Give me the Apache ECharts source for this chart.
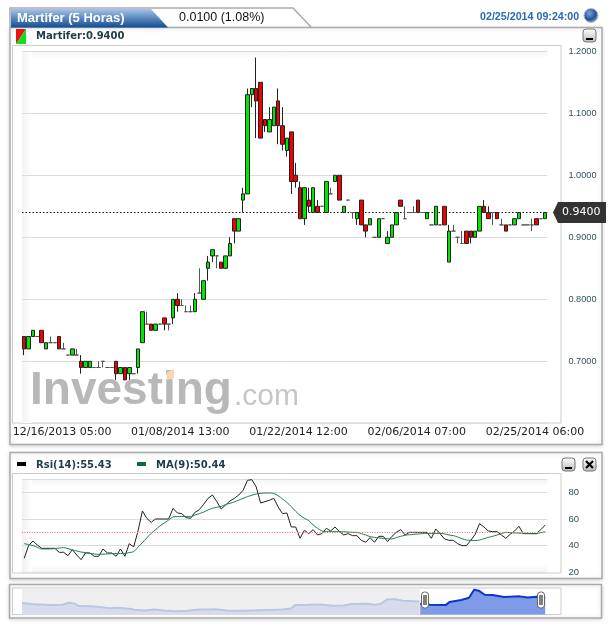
<!DOCTYPE html>
<html><head><meta charset="utf-8">
<script src="https://cdn.jsdelivr.net/npm/echarts@6/dist/echarts.min.js"></script>
<style>html,body{margin:0;padding:0;background:#fff}#c{width:613px;height:627px}</style>
</head><body><div id="c"></div>
<script>
const tickLabels={9:'12/16/2013 05:00',36:'01/08/2014 13:00',63:'01/22/2014 12:00',90:'02/06/2014 07:00',117:'02/25/2014 06:00'};
const opens=[.74,.72,.74,.74,.75,.72,.73,.73,.74,.72,.71,.71,.71,.70,.69,.69,.69,.69,.70,.69,.69,.70,.68,.69,.68,.68,.69,.73,.76,.76,.75,.76,.77,.76,.77,.80,.79,.78,.78,.78,.81,.80,.85,.87,.87,.86,.85,.87,.93,.91,.96,.97,1.13,1.14,1.15,1.09,1.07,1.08,1.12,1.08,1.04,1.07,1.00,.98,.93,.96,.94,.95,.95,.94,.97,.99,1.00,.94,.96,.94,.93,.96,.92,.92,.90,.90,.93,.89,.90,.92,.96,.93,.94,.94,.96,.94,.93,.92,.92,.92,.95,.86,.91,.90,.89,.91,.91,.90,.91,.95,.94,.94,.94,.92,.92,.92,.92,.93,.92,.92,.92,.93,.93,.93];
const closes=[.72,.74,.75,.74,.73,.73,.73,.73,.72,.72,.71,.72,.71,.69,.70,.70,.69,.69,.70,.69,.69,.68,.69,.67,.69,.68,.72,.78,.76,.75,.76,.76,.76,.76,.80,.79,.79,.78,.78,.80,.81,.83,.86,.88,.87,.85,.87,.89,.91,.93,.97,1.13,1.14,1.12,1.06,1.08,1.09,1.11,1.08,1.05,1.06,.99,.99,.93,.98,.95,.98,.94,.95,.99,.97,1.00,.96,.95,.96,.94,.94,.92,.91,.93,.90,.93,.93,.90,.92,.94,.95,.93,.94,.94,.94,.94,.94,.92,.95,.92,.92,.91,.91,.90,.89,.89,.90,.91,.95,.94,.93,.94,.93,.92,.91,.92,.93,.94,.92,.92,.92,.92,.93,.94];
const lows=[.71,.72,.74,.74,.73,.72,.73,.73,.72,.72,.71,.71,.71,.68,.69,.69,.69,.69,.69,.69,.69,.67,.68,.67,.67,.68,.68,.73,.76,.75,.75,.76,.75,.75,.76,.78,.79,.78,.78,.78,.81,.80,.83,.86,.85,.85,.85,.87,.89,.91,.94,.97,1.11,1.06,1.06,1.07,1.07,1.08,1.05,1.04,1.03,.97,.98,.93,.92,.94,.94,.94,.95,.94,.97,.99,.96,.94,.96,.93,.92,.92,.90,.92,.90,.90,.93,.89,.90,.92,.95,.93,.94,.94,.94,.94,.93,.92,.92,.92,.92,.86,.91,.89,.89,.89,.89,.90,.91,.94,.93,.92,.93,.92,.91,.92,.92,.93,.92,.92,.91,.92,.93,.93];
const highs=[.74,.74,.75,.74,.75,.73,.74,.73,.74,.73,.71,.72,.72,.71,.70,.70,.69,.70,.70,.69,.69,.70,.69,.69,.69,.68,.72,.78,.78,.76,.76,.76,.77,.76,.80,.81,.80,.79,.79,.81,.85,.83,.87,.88,.87,.86,.87,.90,.93,.93,.98,1.14,1.14,1.19,1.15,1.09,1.11,1.11,1.14,1.11,1.06,1.07,1.02,.99,.98,.98,.98,.96,.95,.99,.98,1.00,1.00,.95,.96,.94,.94,.96,.92,.93,.90,.93,.93,.91,.92,.94,.96,.95,.94,.95,.96,.94,.94,.92,.95,.92,.95,.92,.92,.90,.91,.91,.91,.91,.95,.96,.95,.94,.94,.93,.92,.92,.93,.94,.92,.92,.93,.93,.93,.94];
const rsi=[30.5,40,43.5,40.5,38,38,38,38,35,35,32.5,37,33,29.5,34.5,34.5,32,32,37.5,34.5,34.5,32,37.5,32,41.5,39,51,66,60.5,57.5,60,60,60,60,68,64.5,64,61,60.5,65,67,71,75.5,78,73,67.5,70.5,73.5,75.5,78,81.5,89,89.5,84,72,73,74,75.5,69,64,64.5,54,54,45.5,51.5,49,52,48,49,53,51,54,50.5,48,49,47.5,47.5,44,42.5,46,42.5,47,47,43,47,50,52,48,50,50,50,50,50,45.5,52.5,49,45,44,44,41.5,40,40,44,48.5,56.5,54,51,50.5,50.5,48,45.5,48.5,51,54.5,49,49,49,49,52,55.43];
const ma=[41.5,40.8,40,38.8,37.5,37.5,37.5,37.8,38.2,38.5,37.8,36.8,36,35.2,34.8,34.2,33.8,33.5,33.6,33.8,34,34,34.1,34.2,34.8,35.5,38.8,42.2,45.8,49.2,52,54.8,57,59.2,61.5,61.8,61.8,61.8,61.8,63,64,65.2,66.8,68,68.8,69.5,70.8,71.8,72.8,74.2,75.5,76.8,77.8,78.8,79.2,79.5,79.5,79.2,77.5,75,72.5,69.2,65.8,62.8,60.5,58.8,55.5,53,51,50.5,50.5,50.5,50.5,50.4,50.2,50,50,49,48,46.8,46.2,45.8,45.5,45.2,45,46,47,47.8,48.2,48.5,48.8,49,49.2,49.2,49.2,49.2,48.8,48,47.5,46.5,45.2,44.2,44,43.8,44.2,45.2,46.2,47,48,49,50,49.8,49.5,49.5,49.2,49.2,49,49,49.8,50.44];
const overviewBefore=[[0,.7545],[24,.722],[44,.711],[74,.689],[104,.70],[119,.765],[134,.744],[144,.667],[174,.656],[194,.635],[224,.591],[244,.602],[274,.569],[289,.537],[314,.515],[339,.547],[364,.515],[394,.493],[424,.504],[454,.547],[474,.547],[494,.558],[524,.515],[564,.504],[604,.526],[644,.537],[664,.547],[689,.58],[699,.689],[734,.70],[764,.711],[794,.667],[824,.678],[844,.722],[884,.733],[904,.70],[919,.733],[934,.874],[954,.885],[974,.831],[1017,.809]];
const overviewSelected=[[1019,.733],[1044,.70],[1084,.689],[1094,.787],[1124,.853],[1144,.929],[1157,1.19],[1169,1.158],[1184,1.027],[1204,1.016],[1234,.951],[1274,.973],[1294,.94],[1316,.962],[1339,.94]];
const lastClose=0.94, rsiLabel='Rsi(14):55.43', maLabel='MA(9):50.44', priceLabel='Martifer:0.9400';
const categories=opens.map((_,i)=>i);
const candles=opens.map((o,i)=>[o,closes[i],lows[i],highs[i]]);
const DJ='"DejaVu Sans"', LS='"Liberation Sans"';
const chart=echarts.init(document.getElementById('c'),null,{renderer:'canvas'});
const L=22,W=525.4;
const option={
 animation:false,
 grid:[{left:L,width:W,top:51.3,height:372},{left:L,width:W,top:479,height:93.3},{left:22,width:524,top:588,height:26.5}],
 xAxis:[
  {type:'category',gridIndex:0,data:categories,axisLine:{show:false},axisTick:{show:false},splitLine:{show:false},
   axisLabel:{interval:(i)=>i in tickLabels,formatter:(v,i)=>tickLabels[i]||'',fontFamily:DJ,fontSize:11,color:'#222',margin:3,padding:[0,3,0,0],showMinLabel:true,showMaxLabel:true,hideOverlap:false}},
  {type:'category',gridIndex:1,data:categories,axisLine:{show:false},axisTick:{show:false},axisLabel:{show:false},splitLine:{show:false}},
  {type:'value',gridIndex:2,min:0,max:1341,show:false}
 ],
 yAxis:[
  {type:'value',gridIndex:0,position:'right',min:.6,max:1.2,interval:.1,axisLine:{show:false},axisTick:{show:false},
   splitLine:{lineStyle:{color:'#dcdcdc',width:1}},
   axisLabel:{showMinLabel:false,formatter:v=>v.toFixed(4),fontFamily:LS,fontSize:9.2,color:'#33505c',margin:21}},
  {type:'value',gridIndex:1,position:'right',min:20,max:90,interval:20,axisLine:{show:false},axisTick:{show:false},
   splitLine:{lineStyle:{color:'#dcdcdc',width:1}},
   axisLabel:{showMaxLabel:false,fontFamily:LS,fontSize:9.5,color:'#33505c',margin:21}},
  {type:'value',gridIndex:2,min:.384,max:1.245,show:false}
 ],
 series:[
  {type:'candlestick',xAxisIndex:0,yAxisIndex:0,data:candles,barWidth:4,z:5,
   itemStyle:{color:'#00e800',color0:'#f00000',borderColor:'#222',borderColor0:'#222',borderColorDoji:'#555',borderWidth:1},
   markLine:{silent:true,symbol:'none',z:1,label:{show:false},lineStyle:{color:'#111',type:[1.5,2],width:1},data:[{yAxis:lastClose}]}},
  {type:'line',xAxisIndex:1,yAxisIndex:1,data:rsi,symbol:'none',lineStyle:{color:'#222',width:1},z:3,
   markLine:{silent:true,symbol:'none',label:{show:false},lineStyle:{color:'#f07070',type:[1,1.5],width:1},data:[{yAxis:50}]}},
  {type:'line',xAxisIndex:1,yAxisIndex:1,data:ma,symbol:'none',smooth:.3,lineStyle:{color:'#1f7d4c',width:1},z:4},
  {type:'line',xAxisIndex:2,yAxisIndex:2,data:overviewBefore,symbol:'none',lineStyle:{color:'#bac6e6',width:2},areaStyle:{color:'#d8dcea',opacity:1}},
  {type:'line',xAxisIndex:2,yAxisIndex:2,data:overviewSelected,symbol:'none',lineStyle:{color:'#0a37cc',width:2},areaStyle:{color:'#7f9ae6',opacity:1}}
 ]
};
chart.setOption(option);
const yTag=chart.convertToPixel({yAxisIndex:0},lastClose);
const xSel=chart.convertToPixel({xAxisIndex:2},overviewSelected[0][0]);
function rect(x,y,w,h,style,z){return {type:'rect',shape:{x,y,width:w,height:h},style,z:z};}
function text(x,y,t,font,fill,z){return {type:'text',x,y,style:{text:t,font,fill,verticalAlign:'middle'},z:z||20};}
function grad(x,y,x2,y2,c0,c1){return new echarts.graphic.LinearGradient(x,y,x2,y2,[{offset:0,color:c0},{offset:1,color:c1}]);}
function panel(x,y,w,h){return rect(x,y,w,h,{fill:'#fff',stroke:'#aaa',lineWidth:1.5,shadowBlur:4,shadowColor:'rgba(0,0,0,.15)',shadowOffsetY:1},-20);}
function frame(x,y,w,h){return rect(x,y,w,h,{fill:'#fff',stroke:'#ccc',lineWidth:1},-15);}
function btn(x,y,close){
 const g=[{type:'rect',shape:{x,y,width:13,height:13,r:3},style:{fill:grad(0,0,0,1,'#fff','#bbb'),stroke:'#777',lineWidth:1},z:20}];
 if(close){g.push({type:'line',shape:{x1:x+3,y1:y+3,x2:x+10,y2:y+10},style:{stroke:'#000',lineWidth:2.2},z:21},{type:'line',shape:{x1:x+10,y1:y+3,x2:x+3,y2:y+10},style:{stroke:'#000',lineWidth:2.2},z:21});}
 else g.push(rect(x+3,y+9,7,2,{fill:'#000'},21));
 return g;
}
function handle(cx){return [
 {type:'rect',shape:{x:cx-3.5,y:592,width:7,height:16,r:3},style:{fill:'#fff',stroke:'#666',lineWidth:1},z:22},
 rect(cx-1.5,595,1,10,{fill:'#000'},23),rect(cx+.5,595,1,10,{fill:'#000'},23)];}
const elements=[
 {type:'polyline',shape:{points:[[10,27],[10,8],[293,8],[311,27]]},style:{stroke:'#aaa',lineWidth:1.5,fill:'#fff'},z:-21},
 panel(10,27.5,592,417),
 panel(10,452.5,592,126),
 panel(9.5,584.5,592,33.5),
 {type:'polygon',shape:{points:[[11,9],[151,9],[168,27.5],[11,27.5]]},style:{fill:grad(0,0,0,1,'#a6c4e8','#0f4d92')},z:5},
 text(17,18,'Martifer (5 Horas)','bold 13px '+LS,'#fff'),
 text(179,17.5,'0.0100 (1.08%)','12.5px '+LS,'#111'),
 text(480,17.5,'02/25/2014 09:24:00','bold 10.7px '+LS,'#2a6cb0'),
 {type:'circle',shape:{cx:591,cy:15.5,r:7},style:{fill:new echarts.graphic.RadialGradient(.4,.35,.7,[{offset:0,color:'#7ea6dc'},{offset:.6,color:'#1f4f9c'},{offset:1,color:'#aab4c4'}]),stroke:'#bbb',lineWidth:1},z:20},
 {type:'polygon',shape:{points:[[16,29],[26,29],[16,44]]},style:{fill:'#ee1111'},z:20},
 {type:'polygon',shape:{points:[[26,29],[26,44],[16,44]]},style:{fill:'#11dd22'},z:20},
 text(36,36.5,priceLabel,'bold 10px '+DJ,'#1c3c4a'),
 ...btn(583,29,false),
 frame(12.5,45.5,548.5,377.5),
 rect(22,51,W,8,{fill:grad(0,0,0,1,'#f3f3f3','#fff')},-14),
 rect(22,51,10,372,{fill:grad(0,0,1,0,'#f3f3f3','#fff')},-14),
 {type:'text',x:30,y:391.5,style:{text:'Investing',font:'bold 46px '+LS,fill:'#b8b8b8',verticalAlign:'middle'},z:1},
 {type:'text',x:234,y:397,style:{text:'.com',font:'30px '+LS,fill:'#c6c6c6',verticalAlign:'middle'},z:1},
 {type:'polygon',shape:{points:[[167,372],[174,369],[174,378],[167,380]]},style:{fill:'#f5d9a8'},z:1},
 {type:'polygon',shape:{points:[[553,yTag],[558,yTag-10.5],[606,yTag-10.5],[606,yTag+10.5],[558,yTag+10.5]]},style:{fill:'#333'},z:20},
 text(562,yTag,'0.9400','11px '+DJ,'#fff',21),
 rect(17,462,9,4,{fill:'#000'},20),
 text(36,465,rsiLabel,'bold 10px '+DJ,'#1c3c4a'),
 rect(137,462,9,4,{fill:'#0b6b3a'},20),
 text(156,465,maLabel,'bold 10px '+DJ,'#1c3c4a'),
 ...btn(562,458,false),...btn(583,458,true),
 frame(12.5,473.5,548.5,99.5),
 rect(22,479,W,8,{fill:grad(0,0,0,1,'#f3f3f3','#fff')},-14),
 rect(22,565,W,8,{fill:grad(0,0,0,1,'#fff','#f1f1f1')},-14),
 rect(22,479,10,93.3,{fill:grad(0,0,1,0,'#f1f1f1','#fff')},-14),
 frame(12.5,588,548.5,26.5),
 rect(22,588.5,xSel-22,26,{fill:'#efefef'},-14),
 ...handle(425),...handle(541)
];
chart.setOption({graphic:{elements}});
</script></body></html>
